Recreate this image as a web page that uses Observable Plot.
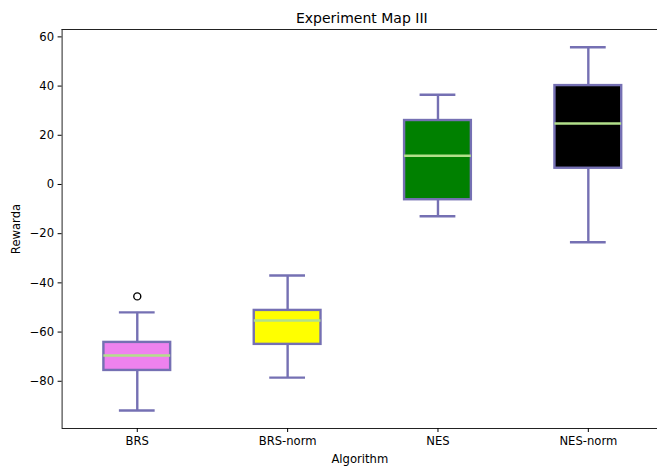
<!DOCTYPE html>
<html>
<head>
<meta charset="utf-8">
<script src="https://cdn.jsdelivr.net/npm/d3@7"></script>
<script src="https://cdn.jsdelivr.net/npm/@observablehq/plot@0.6"></script>
<style>
  html, body { margin: 0; padding: 0; background: white; overflow: hidden; }
</style>
</head>
<body>
<div id="chart"></div>
<script>
const algorithms = ["BRS", "BRS-norm", "NES", "NES-norm"];
const whiskerLow = [-91.9, -78.5, -12.9, -23.5];
const q1 = [-75.6, -65.0, -6.2, 6.6];
const median = [-69.5, -55.3, 11.7, 24.8];
const q3 = [-64.2, -51.2, 26.0, 40.2];
const whiskerHigh = [-52.0, -37.0, 36.5, 55.8];
const fills = ["violet", "yellow", "green", "black"];
const outlierAlgorithm = ["BRS"];
const outlierValue = [-45.5];
const yTicks = [-80, -60, -40, -20, 0, 20, 40, 60];
const titleText = "Experiment Map III";
const xLabel = "Algorithm";
const yLabel = "Rewarda";

const boxes = algorithms.map((a, i) => ({
  algorithm: a, pos: i + 1,
  lo: whiskerLow[i], q1: q1[i], med: median[i], q3: q3[i], hi: whiskerHigh[i],
  fill: fills[i]
}));
const outliers = outlierAlgorithm.map((a, i) => ({pos: algorithms.indexOf(a) + 1, value: outlierValue[i]}));

const edge = "#7570b3";
const medColor = "#b2df8a";
const halfBox = 0.222, halfCap = 0.111;
const lw = 2.4;
const yDomain = [-99.2, 63];

const chart = Plot.plot({
  width: 657,
  height: 466,
  marginLeft: 61.6,
  marginRight: 0,
  marginTop: 29,
  marginBottom: 38,
  style: {fontFamily: "DejaVu Sans", fontSize: "11.6px", color: "black", background: "white"},
  x: {type: "linear", domain: [0.5, 4.5], range: [61.6, 663]},
  y: {domain: yDomain},
  marks: [
    // spines (top, bottom, left)
    Plot.ruleY([yDomain[1], yDomain[0]], {stroke: "#222", strokeWidth: 1}),
    Plot.ruleX([0.5], {stroke: "#222", strokeWidth: 1}),
    // whiskers
    Plot.ruleX(boxes, {x: "pos", y1: "lo", y2: "q1", stroke: edge, strokeWidth: lw}),
    Plot.ruleX(boxes, {x: "pos", y1: "q3", y2: "hi", stroke: edge, strokeWidth: lw}),
    // caps
    Plot.ruleY(boxes, {y: "lo", x1: d => d.pos - halfCap, x2: d => d.pos + halfCap, stroke: edge, strokeWidth: lw, strokeLinecap: "square"}),
    Plot.ruleY(boxes, {y: "hi", x1: d => d.pos - halfCap, x2: d => d.pos + halfCap, stroke: edge, strokeWidth: lw, strokeLinecap: "square"}),
    // boxes
    Plot.rect(boxes, {x1: d => d.pos - halfBox, x2: d => d.pos + halfBox, y1: "q1", y2: "q3", fill: d => d.fill, stroke: edge, strokeWidth: lw}),
    // medians
    Plot.ruleY(boxes, {y: "med", x1: d => d.pos - halfBox, x2: d => d.pos + halfBox, stroke: medColor, strokeWidth: lw}),
    // outliers
    Plot.dot(outliers, {x: "pos", y: "value", r: 3.5, stroke: "black", fill: "none", strokeWidth: 1.4}),
    // axes
    Plot.axisX({ticks: algorithms.map((a, i) => i + 1), tickFormat: d => algorithms[d - 1], tickSize: 4, tickPadding: 4,
      label: xLabel, labelAnchor: "center", labelArrow: "none", labelOffset: 34, stroke: "black"}),
    Plot.axisY({ticks: yTicks, tickFormat: d => String(d).replace("-", "\u2212"), tickSize: 4, tickPadding: 4,
      label: yLabel, labelAnchor: "center", labelArrow: "none", labelOffset: 50, stroke: "black"}),
    // title
    Plot.text([titleText], {text: d => d, frameAnchor: "top", dx: 2, dy: -16, fontSize: 14, fill: "black"})
  ]
});
document.getElementById("chart").appendChild(chart);
</script>
</body>
</html>
